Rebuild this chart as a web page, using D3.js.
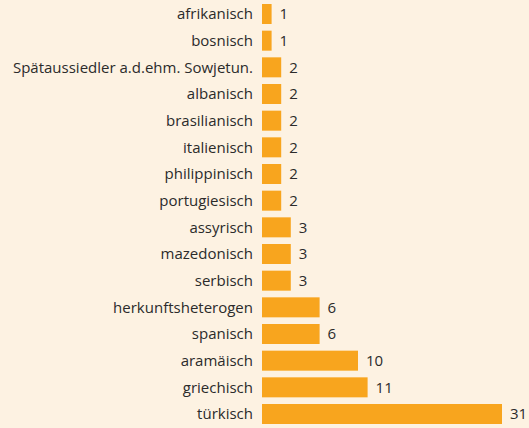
<!DOCTYPE html>
<html>
<head>
<meta charset="utf-8">
<script src="https://cdn.jsdelivr.net/npm/d3@7"></script>
<style>
  html, body { margin: 0; padding: 0; background: #fdf2e2; }
  svg { display: block; }
  text { font-family: "Open Sans", sans-serif; fill: #2b2b2b; }
</style>
</head>
<body>
<svg id="chart" width="529" height="428"></svg>
<script>
var categories = [
  "afrikanisch", "bosnisch", "Spätaussiedler a.d.ehm. Sowjetun.", "albanisch",
  "brasilianisch", "italienisch", "philippinisch", "portugiesisch", "assyrisch",
  "mazedonisch", "serbisch", "herkunftsheterogen", "spanisch", "aramäisch",
  "griechisch", "türkisch"
];
var values = [1, 1, 2, 2, 2, 2, 2, 2, 3, 3, 3, 6, 6, 10, 11, 31];

var width = 529, height = 428;
var left = 262;

var svg = d3.select("#chart");

var y = d3.scaleBand()
    .domain(categories)
    .range([0.67, 427.33])
    .paddingInner(0.25)
    .paddingOuter(0.125);

// the longest bar is cut off at the right edge
var x = d3.scaleLinear()
    .domain([0, 25])
    .range([0, 240])
    .clamp(true);

var data = categories.map(function(c, i) { return {name: c, value: values[i]}; });

var row = svg.selectAll("g.row")
    .data(data)
  .enter().append("g")
    .attr("class", "row")
    .attr("transform", function(d) { return "translate(0," + y(d.name) + ")"; });

row.append("rect")
    .attr("x", left)
    .attr("y", 0)
    .attr("width", function(d) { return x(d.value); })
    .attr("height", y.bandwidth())
    .attr("fill", "#f8a51e");

row.append("text")
    .attr("x", left - 9)
    .attr("y", y.bandwidth() / 2)
    .attr("dy", "0.36em")
    .attr("text-anchor", "end")
    .style("font-size", "15px")
    .text(function(d) { return d.name; });

row.append("text")
    .attr("x", function(d) { return left + x(d.value) + 8; })
    .attr("y", y.bandwidth() / 2)
    .attr("dy", "0.36em")
    .style("font-size", "15px")
    .text(function(d) { return d.value; });
</script>
</body>
</html>
